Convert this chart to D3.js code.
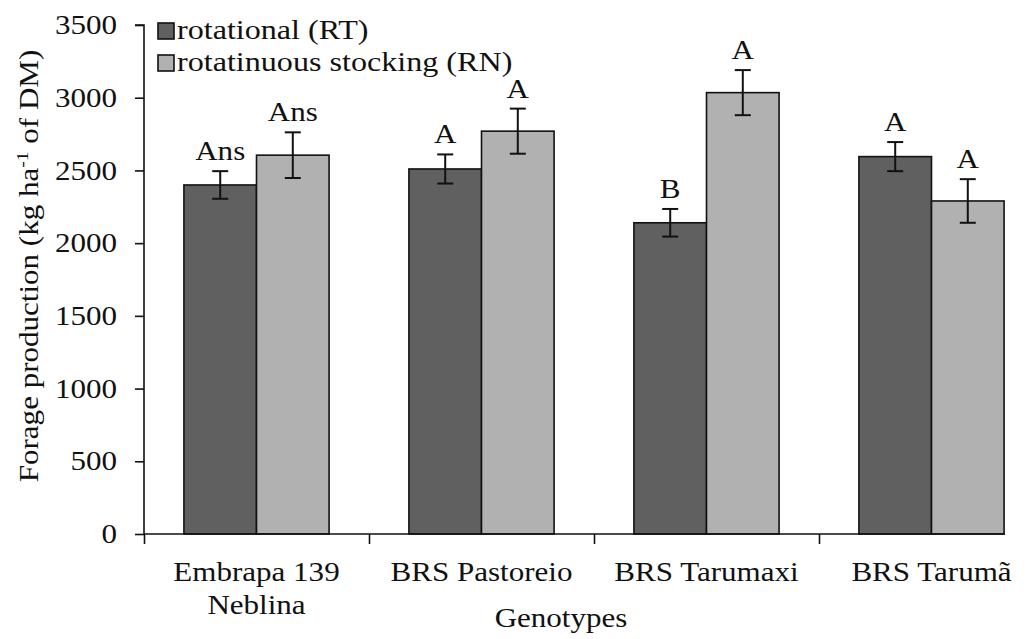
<!DOCTYPE html>
<html lang="en">
<head>
  <meta charset="utf-8" />
  <title>Forage production by genotype</title>
  <script src="https://d3js.org/d3.v7.min.js"></script>
  <style>
    body { margin: 0; background: #fff; }
    svg { display: block; font-family: "Liberation Serif", "Times New Roman", Times, serif; }
    text { fill: #111; }
    .domain, .tick line { stroke: #111; stroke-width: 1.6px; }
  </style>
</head>
<body>
  <svg id="chart" width="1032" height="639"></svg>
  <script>
    const genotypes = ["Embrapa 139\nNeblina", "BRS Pastoreio", "BRS Tarumaxi", "BRS Tarumã"];
    const series = ["rotational (RT)", "rotatinuous stocking (RN)"];
    const rtValues = [2400, 2510, 2140, 2595];
    const rtErrors = [95, 100, 95, 100];
    const rtLetters = ["Ans", "A", "B", "A"];
    const rnValues = [2605, 2770, 3035, 2290];
    const rnErrors = [157, 155, 155, 150];
    const rnLetters = ["Ans", "A", "A", "A"];
    const yTicks = [0, 500, 1000, 1500, 2000, 2500, 3000, 3500];

    const COLORS = ["#606060", "#b1b1b1"];
    const FONT = '"Liberation Serif", "Times New Roman", Times, serif';
    const FS = 27;     // font size
    const SX = 1.15;   // horizontal stretch of the original lettering

    const svg = d3.select("#chart");
    const M = { left: 144, right: 1044, top: 25, bottom: 534 };

    const x = d3.scaleBand().domain(genotypes).range([M.left, M.right]).padding(0);
    const xSub = d3.scaleBand().domain(series).range([0, x.bandwidth()]).paddingInner(0).paddingOuter(0.55);
    const y = d3.scaleLinear().domain([0, 3500]).range([M.bottom, M.top]);
    const xb = d3.scaleLinear().domain([0, genotypes.length]).range([M.left, M.right]);

    function serif(sel, size) {
      return sel.style("font-family", FONT).style("font-size", (size || FS) + "px");
    }

    const rows = genotypes.flatMap((g, i) => [
      { g, s: series[0], v: rtValues[i], e: rtErrors[i], l: rtLetters[i], k: 0 },
      { g, s: series[1], v: rnValues[i], e: rnErrors[i], l: rnLetters[i], k: 1 }
    ]);

    // bars
    svg.append("g").selectAll("rect")
      .data(rows)
      .join("rect")
      .attr("x", d => x(d.g) + xSub(d.s))
      .attr("y", d => y(d.v))
      .attr("width", xSub.bandwidth())
      .attr("height", d => y(0) - y(d.v))
      .attr("fill", d => COLORS[d.k])
      .attr("stroke", "#111")
      .attr("stroke-width", 1.6);

    // error bars
    const eb = svg.append("g").attr("stroke", "#111").attr("stroke-width", 2);
    rows.forEach(d => {
      const cx = x(d.g) + xSub(d.s) + xSub.bandwidth() / 2;
      eb.append("line").attr("x1", cx).attr("x2", cx).attr("y1", y(d.v + d.e)).attr("y2", y(d.v - d.e));
      eb.append("line").attr("x1", cx - 8).attr("x2", cx + 8).attr("y1", y(d.v + d.e)).attr("y2", y(d.v + d.e));
      eb.append("line").attr("x1", cx - 8).attr("x2", cx + 8).attr("y1", y(d.v - d.e)).attr("y2", y(d.v - d.e));
    });

    // letters
    svg.append("g").selectAll("g")
      .data(rows)
      .join("g")
      .attr("transform", d => `translate(${x(d.g) + xSub(d.s) + xSub.bandwidth() / 2},${y(d.v + d.e) - 11})`)
      .append("text")
      .attr("text-anchor", "middle")
      .attr("transform", `scale(${SX},1)`)
      .call(serif)
      .text(d => d.l);

    // y axis
    const gy = svg.append("g")
      .attr("transform", `translate(${M.left},0)`)
      .call(d3.axisLeft(y).tickValues(yTicks).tickSize(9).tickFormat(d3.format("d")))
      .attr("font-family", null).attr("font-size", null);
    gy.select(".domain").attr("d", `M-9,${M.top}H0V${M.bottom}`);
    gy.selectAll("text")
      .attr("x", -27 / SX)
      .attr("transform", `scale(${SX},1)`)
      .call(serif);

    // x axis: boundary ticks
    const gxb = svg.append("g")
      .attr("transform", `translate(0,${M.bottom})`)
      .call(d3.axisBottom(xb).tickValues(d3.range(genotypes.length + 1)).tickSize(10).tickFormat(""));
    gxb.select(".domain").attr("d", `M${M.left},0H1005`);

    // x axis: category labels
    const gx = svg.append("g")
      .attr("transform", `translate(0,${M.bottom})`)
      .call(d3.axisBottom(x).tickSize(0))
      .attr("font-family", null).attr("font-size", null);
    gx.select(".domain").remove();
    gx.selectAll("text")
      .attr("transform", `scale(${SX},1)`)
      .call(serif)
      .attr("y", 0).attr("dy", null)
      .each(function(d) {
        const t = d3.select(this).text("");
        d.split("\n").forEach((line, i) => {
          t.append("tspan").attr("x", 0).attr("y", 47 + i * 33).text(line);
        });
      });

    // axis titles
    svg.append("g")
      .attr("transform", "translate(561,627)")
      .append("text")
      .attr("text-anchor", "middle")
      .attr("transform", `scale(${SX},1)`)
      .call(serif)
      .text("Genotypes");

    const yl = svg.append("g")
      .attr("transform", "translate(38,266) rotate(-90)")
      .append("text")
      .attr("text-anchor", "middle")
      .attr("transform", `scale(${SX},1)`)
      .call(serif);
    yl.append("tspan").text("Forage production (kg ha");
    yl.append("tspan").attr("dy", -10).style("font-size", "17px").text("-1");
    yl.append("tspan").attr("dy", 10).text(" of DM)");

    // legend
    const lg = svg.append("g").selectAll("g")
      .data(series)
      .join("g")
      .attr("transform", (d, i) => `translate(158,${23 + i * 32})`);
    lg.append("rect")
      .attr("width", 16).attr("height", 16)
      .attr("fill", (d, i) => COLORS[i])
      .attr("stroke", "#111").attr("stroke-width", 1.6);
    lg.append("g")
      .attr("transform", "translate(19,16)")
      .append("text")
      .attr("transform", "scale(1.19,1)")
      .call(serif)
      .text(d => d);
  </script>
</body>
</html>
